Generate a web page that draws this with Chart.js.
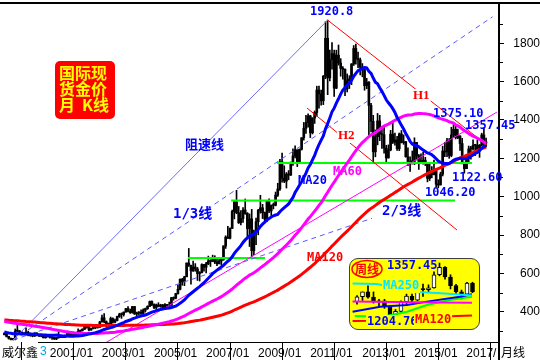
<!DOCTYPE html>
<html>
<head>
<meta charset="utf-8">
<title>国际现货金价月K线</title>
<script src="https://cdn.jsdelivr.net/npm/chart.js@4.4.1/dist/chart.umd.min.js"></script>
<style>
  html, body { margin: 0; padding: 0; background: #fff; }
  #wrap { position: relative; width: 540px; height: 360px; overflow: hidden; }
  #main { position: absolute; left: 0; top: 0; }
  #insetBox {
    position: absolute; left: 349px; top: 258px; width: 131px; height: 72px;
    box-sizing: border-box; background: #ffff00; border: 1px solid #404040;
    border-radius: 9px; overflow: hidden;
  }
  #inset { position: absolute; left: 0; top: 0; }
</style>
</head>
<body>
<div id="wrap">
  <canvas id="main" width="540" height="360"></canvas>
  <div id="insetBox"><canvas id="inset" width="129" height="70"></canvas></div>
</div>
<script>
// 月K线 1999/04 - 2017/10, 月份序号 0 = 2001/01
const firstMonth = -21;

// 1989/05 - 1999/03 月收盘, 只用来算均线
const histClose = [
  362, 373, 368, 359, 366, 376, 408, 401,
  410, 417, 368, 368, 363, 352, 372, 387, 408, 380, 383, 386,
  366, 363, 356, 357, 361, 368, 362, 347, 354, 357, 366, 353,
  354, 353, 341, 337, 337, 343, 357, 340, 349, 339, 334, 333,
  330, 327, 337, 354, 377, 378, 401, 371, 355, 369, 370, 391,
  378, 381, 391, 376, 387, 385, 384, 385, 394, 389, 383, 383,
  375, 376, 391, 389, 385, 387, 383, 382, 384, 382, 387, 387,
  405, 400, 396, 392, 391, 382, 385, 387, 379, 379, 371, 369,
  345, 358, 349, 340, 345, 334, 326, 325, 332, 311, 296, 290,
  303, 297, 301, 310, 293, 296, 288, 273, 294, 292, 294, 288,
  287, 287, 280
];

const close = [
  286, 271, 262, 255, 254, 299, 300, 292, 290,
  284, 293, 278, 276, 273, 288, 276, 278, 273, 264, 269, 273,
  265, 267, 258, 264, 266, 270, 266, 273, 293, 279, 275, 279,
  282, 297, 302, 309, 326, 318, 305, 312, 324, 318, 319, 347,
  368, 348, 334, 337, 364, 346, 354, 375, 385, 386, 398, 416,
  403, 396, 427, 388, 393, 395, 391, 408, 416, 428, 453, 438,
  422, 435, 428, 435, 417, 437, 430, 433, 473, 470, 495, 517,
  569, 556, 582, 654, 643, 613, 633, 623, 599, 604, 646, 632,
  650, 665, 662, 680, 659, 650, 665, 673, 743, 789, 783, 834,
  923, 972, 916, 864, 886, 930, 913, 833, 884, 718, 814, 869,
  928, 942, 916, 883, 979, 926, 954, 955, 1008, 1040, 1182, 1096,
  1081, 1118, 1113, 1180, 1213, 1244, 1181, 1247, 1307, 1357, 1386, 1421,
  1333, 1410, 1439, 1556, 1536, 1500, 1628, 1826, 1620, 1715, 1746, 1566,
  1738, 1697, 1669, 1664, 1561, 1604, 1614, 1692, 1773, 1720, 1713, 1675,
  1663, 1579, 1597, 1476, 1393, 1234, 1312, 1395, 1327, 1323, 1253, 1202,
  1244, 1326, 1284, 1296, 1250, 1327, 1282, 1287, 1208, 1171, 1182, 1184,
  1283, 1213, 1183, 1182, 1190, 1172, 1095, 1134, 1115, 1142, 1065, 1061,
  1118, 1238, 1233, 1291, 1215, 1322, 1351, 1309, 1316, 1277, 1173, 1146,
  1211, 1249, 1249, 1268, 1268, 1242, 1269, 1322, 1280, 1280
];

const high = [
  291, 290, 272, 263, 261, 310, 339, 302, 293,
  293, 316, 299, 289, 280, 293, 291, 280, 279, 274, 270, 275,
  272, 270, 267, 266, 294, 278, 273, 278, 294, 294, 283, 282,
  290, 311, 305, 311, 329, 331, 325, 314, 329, 325, 324, 350,
  383, 390, 352, 341, 372, 368, 361, 377, 392, 394, 399, 418,
  427, 414, 427, 428, 398, 400, 410, 415, 419, 431, 456, 457,
  441, 440, 447, 439, 438, 442, 438, 450, 475, 477, 496, 540,
  572, 574, 585, 654, 730, 632, 664, 651, 631, 609, 650, 647,
  657, 690, 671, 695, 692, 675, 684, 676, 744, 796, 845, 838,
  930, 976, 1033, 949, 928, 943, 988, 917, 910, 934, 826, 888,
  934, 1007, 960, 920, 981, 989, 957, 967, 1024, 1070, 1195, 1227,
  1161, 1126, 1136, 1180, 1249, 1265, 1244, 1249, 1308, 1387, 1424, 1432,
  1424, 1412, 1447, 1576, 1577, 1556, 1632, 1912, 1920.8, 1764, 1803, 1764,
  1764, 1791, 1720, 1678, 1667, 1640, 1631, 1694, 1788, 1796, 1754, 1723,
  1694, 1678, 1617, 1600, 1487, 1424, 1348, 1434, 1424, 1362, 1361, 1268,
  1270, 1346, 1392, 1332, 1315, 1332, 1345, 1322, 1288, 1255, 1208, 1238,
  1307, 1283, 1220, 1224, 1232, 1205, 1174, 1170, 1157, 1191, 1143, 1088,
  1128, 1263, 1283, 1304, 1303, 1362, 1375.1, 1367, 1352, 1318, 1304, 1180,
  1220, 1264, 1262, 1296, 1271, 1297, 1272, 1331, 1357.45, 1306
];

const low = [
  279, 268, 257, 253, 252.5, 253, 296, 289, 279,
  280, 282, 274, 272, 269, 271, 274, 270, 269, 263, 262, 268,
  262, 255, 255, 254, 262, 265, 264, 264, 269, 278, 271, 271,
  278, 281, 289, 299, 307, 314, 300, 302, 310, 311, 314, 318,
  345, 343, 319, 322, 336, 340, 341, 352, 370, 365, 377, 397,
  399, 391, 392, 386, 371, 383, 386, 389, 398, 412, 427, 432,
  416, 412, 425, 423, 413, 414, 418, 428, 432, 460, 467, 491,
  513, 538, 536, 582, 636, 543, 610, 611, 563, 560, 602, 612,
  602, 645, 636, 662, 651, 640, 649, 642, 668, 730, 782, 779,
  834, 884, 911, 860, 853, 866, 908, 786, 740, 681, 698, 749,
  801, 914, 886, 865, 870, 916, 902, 936, 952, 1001, 1033, 1075,
  1073, 1045, 1088, 1110, 1163, 1202, 1157, 1181, 1243, 1295, 1330, 1362,
  1308, 1327, 1382, 1420, 1462, 1477, 1480, 1615, 1532, 1604, 1665, 1523,
  1563, 1686, 1628, 1613, 1527, 1546, 1564, 1584, 1684, 1691, 1673, 1635,
  1625, 1555, 1563, 1321, 1338, 1180, 1208, 1270, 1292, 1251, 1227, 1182,
  1201, 1239, 1277, 1268, 1241, 1240, 1280, 1273, 1206, 1161, 1131, 1170,
  1167, 1191, 1142, 1175, 1170, 1162, 1077, 1084, 1098, 1113, 1052, 1046.2,
  1061, 1108, 1208, 1208, 1200, 1208, 1310, 1301, 1302, 1241, 1171, 1122.6,
  1146, 1180, 1195, 1242, 1214, 1236, 1205, 1266, 1271, 1260
];

const xTickMonths = [0, 24, 48, 72, 96, 120, 144, 168, 192];
const xTickLabels = ['2001/01', '2003/01', '2005/01', '2007/01', '2009/01', '2011/01', '2013/01', '2015/01', '2017/'];
const yTickValues = [400, 600, 800, 1000, 1200, 1400, 1600, 1800];

// 画线, [月份序号, 价格]
const speedLine = [[-17, 252.5], [128, 1920.8]];
const oneThirdLine = [[-17, 252.5], [204, 1938]];
const twoThirdLine = [[-17, 252.5], [148.4, 887]];
const h1Line = [[128, 1920.8], [201.4, 1269]];
const h2Line = [[118.5, 1462], [187.6, 826]];
const pinkLine = [[23.1, 221], [206, 1441]];
const greenLines = [
  [[104.7, 1175], [194.5, 1175]],
  [[83.5, 980], [186.7, 980]],
  [[63.6, 680], [99.1, 680]]
];

// 周线小图 2017/05/26 - 2017/10/20
const wkOpen = [1254, 1267, 1280, 1266, 1253, 1256, 1242, 1212, 1228, 1254, 1269, 1258, 1289, 1286, 1291, 1326, 1346, 1320, 1297, 1280, 1274, 1304];
const wkHigh = [1270, 1280, 1296, 1280, 1260, 1260, 1243, 1233, 1256, 1274, 1274, 1293, 1301, 1299, 1334, 1357.45, 1348, 1326, 1300, 1285, 1306, 1306];
const wkLow = [1247, 1257, 1263, 1250, 1242, 1236, 1205, 1204.76, 1225, 1246, 1252, 1256, 1268, 1280, 1290, 1323, 1314, 1288, 1275, 1261, 1270, 1278];
const wkClose = [1267, 1280, 1266, 1253, 1256, 1242, 1212, 1228, 1254, 1269, 1258, 1289, 1286, 1291, 1326, 1346, 1320, 1297, 1280, 1274, 1304, 1280];
// 周线均线, [周序号, 价格]
const wkMA250 = [[-0.8, 1302.5], [3.6, 1301], [11.1, 1280], [16, 1276], [20.9, 1270.5]];
const wkMagenta = [[-0.8, 1254], [10, 1252], [20.9, 1251]];
const wkBlue = [[-0.8, 1227], [4.2, 1240], [9.1, 1245], [12.7, 1254], [18.7, 1267], [20.9, 1273.5]];
const wkGreen = [[-0.4, 1215.5], [4.7, 1213.6], [9.1, 1227], [12.7, 1245], [16.9, 1258.4], [20.9, 1267]];
const wkMA120 = [[-0.8, 1202], [2.2, 1202.5], [16.9, 1215], [20.9, 1217]];

const MONO = "bold 12px 'DejaVu Sans Mono', monospace";
const MIX = "bold 14px 'DejaVu Sans Mono', 'Noto Sans CJK SC', monospace";
const CJK = "bold 13px 'Noto Sans CJK SC', sans-serif";
const SERIF = "bold 13px 'Liberation Serif', serif";

const open = close.map((c, i) => i === 0 ? histClose[histClose.length - 1] : close[i - 1]);
const allClose = histClose.concat(close);

function movingAverage(n) {
  const out = [];
  for (let i = 0; i < close.length; i++) {
    const end = histClose.length + i + 1;
    const win = allClose.slice(end - n, end);
    out.push({ x: firstMonth + i, y: win.reduce((a, b) => a + b, 0) / n });
  }
  return out;
}

const pts = arr => arr.map(p => ({ x: p[0], y: p[1] }));

function segment(arr, color, width, dash, order) {
  return {
    type: 'line', data: pts(arr), borderColor: color, borderWidth: width,
    borderDash: dash || [], pointRadius: 0, fill: false, tension: 0, order: order
  };
}

function drawText(ctx, t) {
  ctx.font = t.font;
  ctx.textAlign = t.align || 'left';
  ctx.textBaseline = 'middle';
  if (t.bg) {
    const w = ctx.measureText(t.text).width;
    const x0 = t.align === 'right' ? t.x - w : t.x;
    ctx.fillStyle = t.bg;
    ctx.fillRect(x0 - 1, t.y - 7, w + 2, 14);
  }
  ctx.fillStyle = t.color;
  ctx.fillText(t.text, t.x, t.y);
}

const mainTexts = [
  { text: '1920.8', x: 310, y: 12, color: '#0000ff', font: MONO },
  { text: '阻速线', x: 185, y: 144, color: '#0000ff', font: CJK },
  { text: 'H1', x: 413, y: 96, color: '#ff0000', font: SERIF, bg: '#fff' },
  { text: 'H2', x: 338, y: 136, color: '#ff0000', font: SERIF, bg: '#fff' },
  { text: '1375.10', x: 433, y: 114, color: '#0000ff', font: MONO },
  { text: '1357.45', x: 465, y: 126, color: '#0000ff', font: MONO },
  { text: '1122.60', x: 452, y: 178, color: '#0000ff', font: MONO },
  { text: '1046.20', x: 425, y: 193, color: '#0000ff', font: MONO },
  { text: 'MA20', x: 298, y: 181, color: '#0000ff', font: MONO },
  { text: 'MA60', x: 333, y: 172, color: '#ff00ff', font: MONO },
  { text: 'MA120', x: 307, y: 258, color: '#ff0000', font: MONO },
  { text: '1/3线', x: 173, y: 214, color: '#0000ff', font: MIX },
  { text: '2/3线', x: 382, y: 211, color: '#0000ff', font: MIX },
  { text: '威尔鑫', x: 2, y: 352, color: '#000', font: "12px 'Noto Sans CJK SC', sans-serif" },
  { text: '3', x: 40, y: 352, color: '#00a8e0', font: "12px 'Liberation Sans', Arial, sans-serif" },
  { text: '月线', x: 501, y: 352, color: '#000', font: "12px 'Noto Sans CJK SC', sans-serif" }
];

const decorPlugin = {
  id: 'decor',
  afterDraw(chart) {
    const { ctx } = chart;
    const y = chart.scales.y;
    ctx.save();
    ctx.strokeStyle = '#000';
    ctx.lineWidth = 2;
    ctx.beginPath();
    ctx.moveTo(0, 3); ctx.lineTo(540, 3);
    ctx.moveTo(499, 3); ctx.lineTo(499, 360);
    ctx.stroke();
    ctx.lineWidth = 1;
    ctx.beginPath();
    ctx.moveTo(38, 342.5); ctx.lineTo(498, 342.5);
    for (let v = 300; v <= 1900; v += 200) {
      const py = Math.round(y.getPixelForValue(v)) + 0.5;
      ctx.moveTo(500, py); ctx.lineTo(503, py);
    }
    ctx.stroke();

    // 标题方块
    ctx.fillStyle = '#ff0000';
    ctx.beginPath();
    ctx.roundRect(55, 61, 60, 58, 5);
    ctx.fill();
    const tf = "bold 16px 'Noto Sans CJK SC', sans-serif";
    drawText(ctx, { text: '国际现', x: 59, y: 73, color: '#ffff00', font: tf });
    drawText(ctx, { text: '货金价', x: 59, y: 89, color: '#ffff00', font: tf });
    drawText(ctx, { text: '月', x: 59, y: 105, color: '#ffff00', font: tf });
    drawText(ctx, { text: 'K线', x: 109, y: 105, color: '#ffff00', font: tf, align: 'right' });

    mainTexts.forEach(t => drawText(ctx, t));
    ctx.restore();
  }
};

const months = close.map((c, i) => firstMonth + i);

new Chart(document.getElementById('main'), {
  type: 'bar',
  data: {
    datasets: [
      { type: 'line', data: movingAverage(20), borderColor: '#0000ff', borderWidth: 3, pointRadius: 0, tension: 0, order: 0 },
      { type: 'line', data: movingAverage(60), borderColor: '#ff00ff', borderWidth: 3, pointRadius: 0, tension: 0, order: 1 },
      { type: 'line', data: movingAverage(120), borderColor: '#ff0000', borderWidth: 3, pointRadius: 0, tension: 0, order: 2 },
      segment(speedLine, '#6c6cff', 1, null, 3),
      segment(oneThirdLine, '#5a5aff', 1, [5, 4], 3),
      segment(twoThirdLine, '#5a5aff', 1, [5, 4], 3),
      segment(h1Line, '#ff0000', 1, null, 3),
      segment(h2Line, '#ff0000', 1, null, 3),
      segment(pinkLine, '#ff00ff', 1, null, 3),
      ...greenLines.map(g => segment(g, '#00ff00', 2, null, 4)),
      {
        type: 'bar', data: months.map((m, i) => ({ x: m, y: [low[i], high[i]] })),
        backgroundColor: '#000', barThickness: 1, grouped: false, order: 20
      },
      {
        type: 'bar', data: months.map((m, i) => ({ x: m, y: [open[i], close[i]] })),
        backgroundColor: '#000', barThickness: 2, minBarLength: 1, grouped: false, order: 19
      }
    ]
  },
  options: {
    responsive: false,
    animation: false,
    events: [],
    layout: { padding: { top: 3, left: 0, right: 0, bottom: 0 } },
    plugins: { legend: { display: false }, tooltip: { enabled: false } },
    scales: {
      x: {
        type: 'linear', position: 'bottom', min: -23, max: 206.5, offset: false, bounds: 'data',
        afterBuildTicks: s => { s.ticks = xTickMonths.map(m => ({ value: m - 1 })); },
        afterFit: s => { s.height = 18; s.paddingLeft = 0; s.paddingRight = 0; },
        grid: { display: true, drawOnChartArea: false, drawTicks: true, tickLength: 18, color: '#000', lineWidth: 1 },
        border: { display: false },
        ticks: {
          callback: (v, i) => xTickLabels[i],
          align: 'start', labelOffset: 2, padding: -14, autoSkip: false, maxRotation: 0, minRotation: 0,
          color: '#000', font: { family: "'Liberation Sans', Arial, sans-serif", size: 12 }
        }
      },
      y: {
        type: 'linear', position: 'right', min: 242, max: 2010, bounds: 'data',
        afterBuildTicks: s => { s.ticks = yTickValues.map(v => ({ value: v })); },
        afterFit: s => { s.width = 42; s.paddingTop = 0; s.paddingBottom = 0; },
        grid: { display: true, drawOnChartArea: false, drawTicks: true, tickLength: 6, color: '#000', lineWidth: 1 },
        border: { display: false },
        ticks: {
          callback: v => String(v),
          crossAlign: 'far', padding: 5, autoSkip: false,
          color: '#000', font: { family: "'Liberation Sans', Arial, sans-serif", size: 12 }
        }
      }
    }
  },
  plugins: [decorPlugin]
});

// 周线小图
const insetTexts = [
  { text: '1357.45', x: 37, y: 7, color: '#0000ff', font: MONO },
  { text: 'MA250', x: 33, y: 27, color: '#00e8ff', font: MONO, bg: '#ffff00' },
  { text: '1204.76', x: 17, y: 63, color: '#0000ff', font: MONO, bg: '#ffff00' },
  { text: 'MA120', x: 65, y: 61, color: '#ff0000', font: MONO, bg: '#ffff00' }
];

const insetPlugin = {
  id: 'insetDecor',
  afterDraw(chart) {
    const { ctx } = chart;
    ctx.save();
    ctx.strokeStyle = '#ff0000';
    ctx.lineWidth = 1.5;
    ctx.beginPath();
    ctx.ellipse(17, 10, 15, 8.5, 0, 0, Math.PI * 2);
    ctx.stroke();
    drawText(ctx, { text: '周线', x: 17, y: 10, color: '#ff0000', font: "bold 12px 'Noto Sans CJK SC', sans-serif", align: 'center' });
    insetTexts.forEach(t => drawText(ctx, t));
    ctx.restore();
  }
};

new Chart(document.getElementById('inset'), {
  type: 'bar',
  data: {
    datasets: [
      segment(wkMA250, '#00e8ff', 2, null, 0),
      segment(wkMagenta, '#ff00ff', 2, null, 0),
      segment(wkBlue, '#0000ff', 2, null, 0),
      segment(wkGreen, '#00ff00', 2, null, 0),
      segment(wkMA120, '#ff0000', 2, null, 0),
      {
        type: 'bar', data: wkClose.map((c, i) => ({ x: i, y: [wkLow[i], wkHigh[i]] })),
        backgroundColor: '#000', barThickness: 1, grouped: false, order: 20
      },
      {
        type: 'bar', data: wkClose.map((c, i) => ({ x: i, y: [wkOpen[i], c] })),
        backgroundColor: wkClose.map((c, i) => c >= wkOpen[i] ? '#fff' : '#000'),
        borderColor: '#000', borderWidth: 1, borderSkipped: false,
        barThickness: 4, minBarLength: 1, grouped: false, order: 19
      }
    ]
  },
  options: {
    responsive: false,
    animation: false,
    events: [],
    layout: { padding: 0 },
    plugins: { legend: { display: false }, tooltip: { enabled: false } },
    scales: {
      x: { type: 'linear', min: -1.27, max: 22.18, display: false, offset: false, bounds: 'data' },
      y: { type: 'linear', min: 1180.6, max: 1368.2, display: false, bounds: 'data' }
    }
  },
  plugins: [insetPlugin]
});
</script>
</body>
</html>
